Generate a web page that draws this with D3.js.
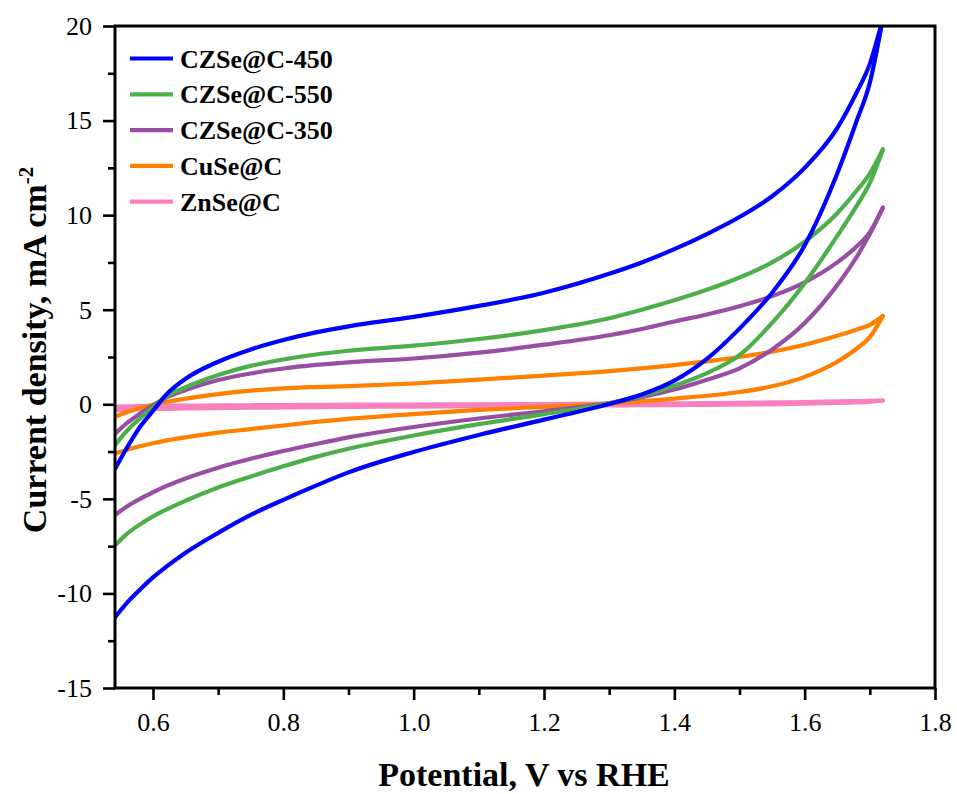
<!DOCTYPE html>
<html>
<head>
<meta charset="utf-8">
<script src="https://cdn.jsdelivr.net/npm/d3@7"></script>
<style>
  html, body { margin: 0; padding: 0; background: #fff; }
  svg { display: block; }
  text { font-family: "Liberation Serif", "Times New Roman", serif; }
</style>
</head>
<body>
<svg id="chart" width="957" height="794"></svg>
<script>
// Cyclic voltammograms: potential (V vs RHE) vs current density (mA cm^-2)
const potentials = [0.542, 0.56, 0.58, 0.6, 0.62, 0.65, 0.7, 0.75, 0.8, 0.85, 0.9, 1.0,
                    1.1, 1.2, 1.3, 1.35, 1.4, 1.45, 1.5, 1.55, 1.6, 1.65, 1.68, 1.7, 1.72];

const seriesNames = ["CZSe@C-450", "CZSe@C-550", "CZSe@C-350", "CuSe@C", "ZnSe@C"];
const seriesColors = ["#0000ff", "#4daf4a", "#984ea3", "#ff7f00", "#f781bf"];

// forward (anodic) sweep
const forward450 = [-3.4, -2.3, -1.2, -0.35, 0.5, 1.35, 2.25, 2.9, 3.4, 3.8, 4.12, 4.62,
                    5.2, 5.9, 6.9, 7.5, 8.2, 9.0, 9.9, 11.0, 12.5, 14.6, 16.5, 18.0, 20.4];
const forward550 = [-2.15, -1.4, -0.75, -0.15, 0.4, 0.9, 1.55, 2.03, 2.37, 2.63, 2.83, 3.1,
                    3.45, 3.92, 4.55, 5.0, 5.5, 6.05, 6.7, 7.5, 8.6, 10.1, 11.3, 12.2, 13.47];
const forward350 = [-1.55, -1.0, -0.5, -0.05, 0.35, 0.75, 1.28, 1.63, 1.89, 2.08, 2.22, 2.42,
                    2.73, 3.15, 3.65, 3.98, 4.38, 4.75, 5.18, 5.72, 6.45, 7.5, 8.35, 9.1, 10.4];
const forwardCuSe = [-0.65, -0.42, -0.2, -0.03, 0.12, 0.3, 0.54, 0.72, 0.84, 0.91, 0.96, 1.1,
                     1.3, 1.52, 1.75, 1.9, 2.07, 2.27, 2.5, 2.78, 3.15, 3.62, 3.95, 4.2, 4.67];
const forwardZnSe = [-0.12, -0.11, -0.1, -0.09, -0.08, -0.07, -0.06, -0.05, -0.04, -0.03, -0.02, -0.01,
                     0.0, 0.01, 0.03, 0.04, 0.05, 0.06, 0.08, 0.1, 0.12, 0.15, 0.165, 0.18, 0.2];

// reverse (cathodic) sweep
const reverse450 = [-11.25, -10.5, -9.8, -9.15, -8.6, -7.85, -6.8, -5.85, -5.05, -4.3, -3.6, -2.52,
                    -1.62, -0.81, 0.02, 0.52, 1.25, 2.4, 4.0, 5.9, 8.4, 12.2, 15.0, 17.0, 20.4];
const reverse550 = [-7.45, -6.85, -6.35, -5.93, -5.57, -5.1, -4.4, -3.82, -3.28, -2.78, -2.35, -1.65,
                    -1.05, -0.52, 0.05, 0.45, 0.98, 1.65, 2.6, 4.3, 6.4, 8.9, 10.5, 11.7, 13.47];
const reverse350 = [-5.85, -5.4, -5.0, -4.65, -4.33, -3.92, -3.35, -2.88, -2.47, -2.1, -1.75, -1.2,
                    -0.75, -0.37, 0.06, 0.38, 0.78, 1.3, 1.9, 2.9, 4.3, 6.3, 7.8, 9.0, 10.4];
const reverseCuSe = [-2.6, -2.4, -2.22, -2.06, -1.92, -1.75, -1.5, -1.31, -1.12, -0.93, -0.77, -0.52,
                     -0.3, -0.14, 0.03, 0.15, 0.3, 0.45, 0.65, 0.95, 1.45, 2.25, 2.95, 3.55, 4.67];
const reverseZnSe = [-0.3, -0.28, -0.26, -0.25, -0.24, -0.22, -0.2, -0.18, -0.17, -0.15, -0.14, -0.12,
                     -0.1, -0.08, -0.06, -0.05, -0.04, -0.03, -0.02, 0.0, 0.03, 0.07, 0.1, 0.13, 0.2];

const forwardSweeps = [forward450, forward550, forward350, forwardCuSe, forwardZnSe];
const reverseSweeps = [reverse450, reverse550, reverse350, reverseCuSe, reverseZnSe];

const xMajorTicks = [0.6, 0.8, 1.0, 1.2, 1.4, 1.6, 1.8];
const xMinorTicks = [0.7, 0.9, 1.1, 1.3, 1.5, 1.7];
const yMajorTicks = [-15, -10, -5, 0, 5, 10, 15, 20];
const yMinorTicks = [-12.5, -7.5, -2.5, 2.5, 7.5, 12.5, 17.5];

const svg = d3.select("#chart");
const plot = { left: 115, right: 935, top: 26, bottom: 688 };

const x = d3.scaleLinear().domain([0.5417, 1.8]).range([plot.left, plot.right]);
const y = d3.scaleLinear().domain([-15, 20]).range([plot.bottom, plot.top]);

svg.append("defs").append("clipPath").attr("id", "plot-clip")
  .append("rect")
  .attr("x", plot.left).attr("y", plot.top)
  .attr("width", plot.right - plot.left).attr("height", plot.bottom - plot.top);

// curves
const line = d3.line()
  .x(d => x(d[0]))
  .y(d => y(d[1]))
  .curve(d3.curveMonotoneX);

const curves = svg.append("g").attr("clip-path", "url(#plot-clip)");
// draw the background samples first so CZSe@C-450 sits on top
[4, 3, 2, 1, 0].forEach(i => {
  [forwardSweeps[i], reverseSweeps[i]].forEach(sweep => {
    curves.append("path")
      .datum(potentials.map((p, k) => [p, sweep[k]]))
      .attr("d", line)
      .attr("fill", "none")
      .attr("stroke", seriesColors[i])
      .attr("stroke-width", 4.2)
      .attr("stroke-linecap", "round")
      .attr("stroke-linejoin", "round");
  });
});

// axes
function styleAxis(g) {
  g.select(".domain").remove();
  g.selectAll(".tick line").attr("stroke", "#000").attr("stroke-width", 2.6);
  g.selectAll(".tick text")
    .attr("fill", "#000")
    .style("font-family", "'Liberation Serif', 'Times New Roman', serif")
    .style("font-size", "26px");
}

svg.append("g")
  .attr("transform", `translate(0,${plot.bottom})`)
  .call(d3.axisBottom(x).tickValues(xMinorTicks).tickSize(7).tickFormat(""))
  .call(styleAxis);
svg.append("g")
  .attr("transform", `translate(0,${plot.bottom})`)
  .call(d3.axisBottom(x).tickValues(xMajorTicks).tickSize(12).tickPadding(13).tickFormat(d3.format(".1f")))
  .call(styleAxis);

svg.append("g")
  .attr("transform", `translate(${plot.left},0)`)
  .call(d3.axisLeft(y).tickValues(yMinorTicks).tickSize(7).tickFormat(""))
  .call(styleAxis);
svg.append("g")
  .attr("transform", `translate(${plot.left},0)`)
  .call(d3.axisLeft(y).tickValues(yMajorTicks).tickSize(12).tickPadding(11).tickFormat(d => String(d)))
  .call(styleAxis);

// frame
svg.append("rect")
  .attr("x", plot.left).attr("y", plot.top)
  .attr("width", plot.right - plot.left).attr("height", plot.bottom - plot.top)
  .attr("fill", "none").attr("stroke", "#000").attr("stroke-width", 3);

// axis titles
svg.append("text")
  .attr("x", 524).attr("y", 786)
  .attr("text-anchor", "middle")
  .style("font-size", "34px").style("font-weight", "bold")
  .text("Potential, V vs RHE");

const yTitle = svg.append("text")
  .attr("transform", "translate(46,350) rotate(-90)")
  .attr("text-anchor", "middle")
  .style("font-size", "34px").style("font-weight", "bold");
yTitle.append("tspan").text("Current density, mA cm");
yTitle.append("tspan").attr("dy", -13).style("font-size", "21px").text("-2");

// legend
const legend = svg.append("g");
seriesNames.forEach((name, i) => {
  const ly = 58.5 + i * 35.8;
  legend.append("line")
    .attr("x1", 130).attr("x2", 173).attr("y1", ly).attr("y2", ly)
    .attr("stroke", seriesColors[i]).attr("stroke-width", 4.2);
  legend.append("text")
    .attr("x", 180).attr("y", ly + 9)
    .style("font-size", "26px").style("font-weight", "bold")
    .text(name);
});
</script>
</body>
</html>
